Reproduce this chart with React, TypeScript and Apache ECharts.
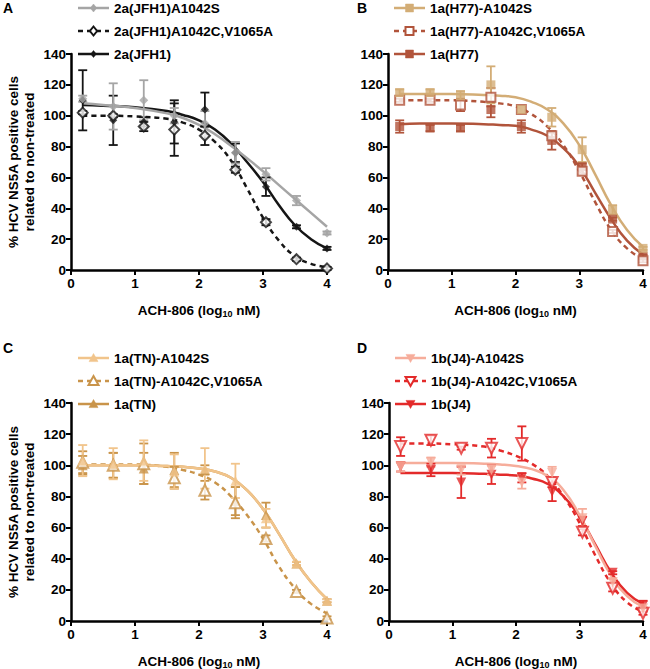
import React, { useEffect, useRef } from "react";
import * as echarts from "echarts";

// ---- data ----
const LOG_X = [0.183, 0.66, 1.137, 1.614, 2.092, 2.569, 3.046, 3.523, 4.0];
const CURVE_X = [0.18, 0.5, 1, 1.5, 1.75, 2, 2.25, 2.5, 2.75, 3, 3.25, 3.5, 3.75, 4];
const X_TICKS = [0, 1, 2, 3, 4];
const Y_TICKS = [0, 20, 40, 60, 80, 100, 120, 140];

// Panel A
const A_S_NAME = "2a(JFH1)A1042S";
const A_S_VAL = [111, 106, 110, 100, 95, 76, 62, 45, 24];
const A_S_ERR = [2, 15, 13, 5, 8, 7, 4, 3, 1];
const A_S_CURVE = [108, 107, 105, 101.5, 98.5, 94, 88, 80.5, 72.5, 64, 55, 46, 37, 28];
const A_CV_NAME = "2a(JFH1)A1042C,V1065A";
const A_CV_VAL = [102, 100, 93, 91, 87, 65, 31, 7, 1];
const A_CV_ERR = [1, 1, 3, 17, 6, 2, 2, 1, 1];
const A_CV_CURVE = [100, 100, 99.5, 98, 95.5, 91, 83, 71, 53, 34, 19, 9, 4, 2];
const A_WT_NAME = "2a(JFH1)";
const A_WT_VAL = [110, 97, 96, 96, 104, 76, 54, 28, 14];
const A_WT_ERR = [19.5, 16, 3, 14, 11, 6, 6, 1, 1];
const A_WT_CURVE = [107, 106.5, 105.5, 103, 100.5, 97, 91, 82, 70, 57, 42, 29, 20, 14];

// Panel B
const B_S_NAME = "1a(H77)-A1042S";
const B_S_VAL = [115, 115, 113, 120, 104, 99, 78, 39, 14];
const B_S_ERR = [2, 2, 3, 12, 2, 6, 8, 3, 1];
const B_S_CURVE = [114, 114, 114, 113.5, 113, 112, 109, 104, 95, 81, 62, 42, 26, 15];
const B_CV_NAME = "1a(H77)-A1042C,V1065A";
const B_CV_VAL = [110, 110, 107, 112, 104, 87, 64, 25, 6];
const B_CV_ERR = [1, 1, 4, 6, 2, 2, 2, 1, 1];
const B_CV_CURVE = [110, 110, 110, 109, 108, 106, 101, 93, 81, 64, 44, 26, 14, 7];
const B_WT_NAME = "1a(H77)";
const B_WT_VAL = [93, 92, 92, 104, 93, 84, 67, 33, 9];
const B_WT_ERR = [4, 2, 2, 5, 4, 6, 2, 1, 1];
const B_WT_CURVE = [94.5, 95, 95, 94.5, 94, 93.5, 91, 87, 79, 67, 50, 33, 19, 10];

// Panel C
const C_S_NAME = "1a(TN)-A1042S";
const C_S_VAL = [103, 101, 103, 96, 98, 90, 66, 37, 13];
const C_S_ERR = [10, 10, 13, 11, 13, 11, 6, 1, 1];
const C_S_CURVE = [100, 100, 100, 99.5, 99, 98, 96, 92, 84, 72, 56, 39, 25, 14];
const C_CV_NAME = "1a(TN)-A1042C,V1065A";
const C_CV_VAL = [102, 100, 101, 92, 84, 76, 53, 19, 2];
const C_CV_ERR = [7, 8, 13, 7, 6, 10, 2, 1, 1];
const C_CV_CURVE = [100.5, 100.5, 100.5, 99, 97, 94, 89, 80, 68, 53, 35, 21, 11, 5];
const C_WT_NAME = "1a(TN)";
const C_WT_VAL = [100, 100, 98, 97, 97, 77, 68, 37, 13];
const C_WT_ERR = [6, 8, 10, 11, 3, 9, 8, 1, 1];
const C_WT_CURVE = [100, 100, 100, 99.5, 99, 98, 96, 92, 84, 72, 56, 39, 25, 14];

// Panel D
const D_S_NAME = "1b(J4)-A1042S";
const D_S_VAL = [99, 102, 97, 97, 89, 95, 66, 25, 8];
const D_S_ERR = [3, 3, 3, 3, 4, 4, 6, 2, 1];
const D_S_CURVE = [101.5, 101.5, 101.5, 101, 100.5, 99.5, 97.5, 93, 84, 68, 48, 29, 16, 9];
const D_CV_NAME = "1b(J4)-A1042C,V1065A";
const D_CV_VAL = [112, 116, 111, 111, 114, 89, 57, 21, 5];
const D_CV_ERR = [6, 3, 1, 6, 11, 3, 2, 2, 1];
const D_CV_CURVE = [114, 114, 113.5, 112, 109.5, 106, 101, 93, 80, 63, 42, 24, 12, 6];
const D_WT_NAME = "1b(J4)";
const D_WT_VAL = [99, 97, 89, 94, 92, 83, 64, 31, 10];
const D_WT_ERR = [3, 4, 10, 6, 3, 6, 3, 1, 3];
const D_WT_CURVE = [95, 95, 95, 94.5, 94, 93.5, 91.5, 88, 80, 67, 49, 31, 18, 11];

const PANEL_LABELS = ["A", "B", "C", "D"];
const X_TITLE = "ACH-806 (log{s|10} nM)";
const Y_TITLE = "% HCV NS5A positive cells\nrelated to non-treated";

// ---- styling / layout ----
const FONT = '"Liberation Sans", Arial, Helvetica, sans-serif';
const FS = 13.5;

type SeriesDef = {
  name: string;
  color: string;
  dashed: boolean;
  symbol: "diamond" | "rect" | "triangle" | "tridown";
  open: boolean;
  vals: number[];
  errs: number[];
  curve: number[];
  size: number;
};

type PanelDef = {
  grid: { left: number; top: number; width: number; height: number };
  yTitle: boolean;
  label: { x: number; y: number };
  legendX: number;
  legendY: number[];
  series: SeriesDef[];
};

const GRAY = "#a5a5a5";
const BLACK = "#151515";
const TAN = "#d3ad76";
const RUST = "#b1543b";
const LTAN = "#f1c48b";
const OCHRE = "#c9944a";
const PINK = "#f6ad9b";
const RED = "#e32a2a";

const PANELS: PanelDef[] = [
  {
    grid: { left: 71, top: 54, width: 256, height: 216 },
    yTitle: true,
    label: { x: 3, y: 8 },
    legendX: 78,
    legendY: [8, 31, 54],
    series: [
      { name: A_S_NAME, color: GRAY, dashed: false, symbol: "diamond", open: false, vals: A_S_VAL, errs: A_S_ERR, curve: A_S_CURVE, size: 9 },
      { name: A_CV_NAME, color: BLACK, dashed: true, symbol: "diamond", open: true, vals: A_CV_VAL, errs: A_CV_ERR, curve: A_CV_CURVE, size: 10 },
      { name: A_WT_NAME, color: BLACK, dashed: false, symbol: "diamond", open: false, vals: A_WT_VAL, errs: A_WT_ERR, curve: A_WT_CURVE, size: 8 },
    ],
  },
  {
    grid: { left: 388, top: 54, width: 255, height: 216 },
    yTitle: false,
    label: { x: 357, y: 8 },
    legendX: 394,
    legendY: [8, 31, 54],
    series: [
      { name: B_S_NAME, color: TAN, dashed: false, symbol: "rect", open: false, vals: B_S_VAL, errs: B_S_ERR, curve: B_S_CURVE, size: 9 },
      { name: B_CV_NAME, color: RUST, dashed: true, symbol: "rect", open: true, vals: B_CV_VAL, errs: B_CV_ERR, curve: B_CV_CURVE, size: 9 },
      { name: B_WT_NAME, color: RUST, dashed: false, symbol: "rect", open: false, vals: B_WT_VAL, errs: B_WT_ERR, curve: B_WT_CURVE, size: 9 },
    ],
  },
  {
    grid: { left: 71, top: 403, width: 256, height: 218 },
    yTitle: true,
    label: { x: 3, y: 348 },
    legendX: 78,
    legendY: [358, 381, 404],
    series: [
      { name: C_S_NAME, color: LTAN, dashed: false, symbol: "triangle", open: false, vals: C_S_VAL, errs: C_S_ERR, curve: C_S_CURVE, size: 10 },
      { name: C_CV_NAME, color: OCHRE, dashed: true, symbol: "triangle", open: true, vals: C_CV_VAL, errs: C_CV_ERR, curve: C_CV_CURVE, size: 11 },
      { name: C_WT_NAME, color: OCHRE, dashed: false, symbol: "triangle", open: false, vals: C_WT_VAL, errs: C_WT_ERR, curve: C_WT_CURVE, size: 10 },
    ],
  },
  {
    grid: { left: 389, top: 403, width: 254, height: 218 },
    yTitle: false,
    label: { x: 357, y: 348 },
    legendX: 395,
    legendY: [358, 381, 404],
    series: [
      { name: D_S_NAME, color: PINK, dashed: false, symbol: "tridown", open: false, vals: D_S_VAL, errs: D_S_ERR, curve: D_S_CURVE, size: 10 },
      { name: D_CV_NAME, color: RED, dashed: true, symbol: "tridown", open: true, vals: D_CV_VAL, errs: D_CV_ERR, curve: D_CV_CURVE, size: 11 },
      { name: D_WT_NAME, color: RED, dashed: false, symbol: "tridown", open: false, vals: D_WT_VAL, errs: D_WT_ERR, curve: D_WT_CURVE, size: 10 },
    ],
  },
];

function legendSymbolPoints(kind: string, cx: number, cy: number, s: number): number[][] {
  const h = s / 2;
  if (kind === "diamond") return [[cx, cy - h], [cx + h * 0.8, cy], [cx, cy + h], [cx - h * 0.8, cy]];
  if (kind === "rect") return [[cx - h, cy - h], [cx + h, cy - h], [cx + h, cy + h], [cx - h, cy + h]];
  if (kind === "triangle") return [[cx, cy - h], [cx + h, cy + h * 0.8], [cx - h, cy + h * 0.8]];
  return [[cx, cy + h], [cx + h, cy - h * 0.8], [cx - h, cy - h * 0.8]];
}

function buildOption() {
  const grids: any[] = [];
  const xAxes: any[] = [];
  const yAxes: any[] = [];
  const series: any[] = [];
  const graphics: any[] = [];

  const axisLabel = { color: "#000", fontSize: FS, fontWeight: "bold", fontFamily: FONT };

  PANELS.forEach((p, i) => {
    grids.push({ ...p.grid, containLabel: false, outerBoundsMode: "none" });
    xAxes.push({
      type: "value",
      gridIndex: i,
      min: X_TICKS[0],
      max: X_TICKS[X_TICKS.length - 1],
      interval: 1,
      axisLine: { show: true, onZero: false, lineStyle: { color: "#000", width: 2.5 } },
      axisTick: { show: true, length: 5, lineStyle: { color: "#000", width: 2 } },
      axisLabel: { ...axisLabel, margin: 6 },
      splitLine: { show: false },
      name: X_TITLE,
      nameLocation: "middle",
      nameGap: 33,
      nameTextStyle: {
        color: "#000",
        fontSize: FS,
        fontWeight: "bold",
        fontFamily: FONT,
        rich: {
          s: { fontSize: 9, fontWeight: "bold", fontFamily: FONT, color: "#000", verticalAlign: "bottom", padding: [6, 0, 0, 0] },
        },
      },
    });
    yAxes.push({
      type: "value",
      gridIndex: i,
      min: Y_TICKS[0],
      max: Y_TICKS[Y_TICKS.length - 1],
      interval: 20,
      axisLine: { show: true, onZero: false, lineStyle: { color: "#000", width: 2.5 } },
      axisTick: { show: true, length: 5, lineStyle: { color: "#000", width: 2 } },
      axisLabel: { ...axisLabel, margin: 5 },
      splitLine: { show: false },
      name: p.yTitle ? Y_TITLE : "",
      nameLocation: "middle",
      nameRotate: 90,
      nameGap: 34,
      nameTextStyle: { color: "#000", fontSize: FS, fontWeight: "bold", fontFamily: FONT, lineHeight: 16 },
    });

    // draw in reverse so the first-listed variant sits on top
    [...p.series].reverse().forEach((s) => {
      const sym = s.symbol === "tridown" ? "triangle" : s.symbol;
      const rot = s.symbol === "tridown" ? 180 : 0;
      // fitted curve
      series.push({
        type: "line",
        xAxisIndex: i,
        yAxisIndex: i,
        data: CURVE_X.map((x, k) => [x, s.curve[k]]),
        showSymbol: false,
        symbol: "none",
        smooth: 0.5,
        clip: false,
        z: 2,
        lineStyle: { color: s.color, width: 2.5, type: s.dashed ? [5, 4] : "solid" },
        silent: true,
      });
      // error bars
      series.push({
        type: "custom",
        xAxisIndex: i,
        yAxisIndex: i,
        clip: false,
        z: 3,
        data: LOG_X.map((x, k) => [x, s.vals[k], s.errs[k]]),
        renderItem: (params: any, api: any) => {
          const x = api.value(0);
          const y = api.value(1);
          const e = api.value(2);
          const top = api.coord([x, y + e]);
          const bot = api.coord([x, y - e]);
          const hw = 4.5;
          const st = { stroke: s.color, lineWidth: 1.8, fill: null };
          return {
            type: "group",
            children: [
              { type: "line", shape: { x1: top[0], y1: top[1], x2: bot[0], y2: bot[1] }, style: st },
              { type: "line", shape: { x1: top[0] - hw, y1: top[1], x2: top[0] + hw, y2: top[1] }, style: st },
              { type: "line", shape: { x1: bot[0] - hw, y1: bot[1], x2: bot[0] + hw, y2: bot[1] }, style: st },
            ],
          };
        },
        silent: true,
      });
      // points
      series.push({
        type: "scatter",
        xAxisIndex: i,
        yAxisIndex: i,
        data: LOG_X.map((x, k) => [x, s.vals[k]]),
        symbol: sym,
        symbolRotate: rot,
        symbolSize: s.size,
        clip: false,
        z: 4,
        itemStyle: s.open
          ? { color: "#fff", borderColor: s.color, borderWidth: 2 }
          : { color: s.color, borderWidth: 0 },
        silent: true,
      });
    });

    // panel letter
    graphics.push({
      type: "text",
      x: p.label.x,
      y: p.label.y,
      style: { text: PANEL_LABELS[i], fill: "#000", fontSize: 14, fontWeight: "bold", fontFamily: FONT, verticalAlign: "middle", align: "left" },
    });

    // legend
    p.series.forEach((s, r) => {
      const y = p.legendY[r];
      const x0 = p.legendX;
      graphics.push({
        type: "line",
        shape: { x1: x0, y1: y, x2: x0 + 31, y2: y },
        style: { stroke: s.color, lineWidth: 2.5, lineDash: s.dashed ? [5, 4] : null },
      });
      graphics.push({
        type: "polygon",
        shape: { points: legendSymbolPoints(s.symbol, x0 + 15.5, y, s.size - 1) },
        style: s.open
          ? { fill: "#fff", stroke: s.color, lineWidth: 2 }
          : { fill: s.color, stroke: s.color, lineWidth: 0.5 },
      });
      graphics.push({
        type: "text",
        x: x0 + 36,
        y: y,
        style: { text: s.name, fill: "#000", fontSize: FS, fontWeight: "bold", fontFamily: FONT, verticalAlign: "middle", align: "left" },
      });
    });
  });

  return {
    animation: false,
    backgroundColor: "#fff",
    grid: grids,
    xAxis: xAxes,
    yAxis: yAxes,
    series,
    graphic: graphics,
  };
}

export default function App() {
  const ref = useRef<HTMLDivElement>(null);
  useEffect(() => {
    if (!ref.current) return;
    const chart = echarts.init(ref.current, undefined, { renderer: "svg" });
    chart.setOption(buildOption() as any);
    return () => chart.dispose();
  }, []);
  return (
    <div
      ref={ref}
      style={{ position: "absolute", left: 0, top: 0, width: 650, height: 669, background: "#fff" }}
    />
  );
}
